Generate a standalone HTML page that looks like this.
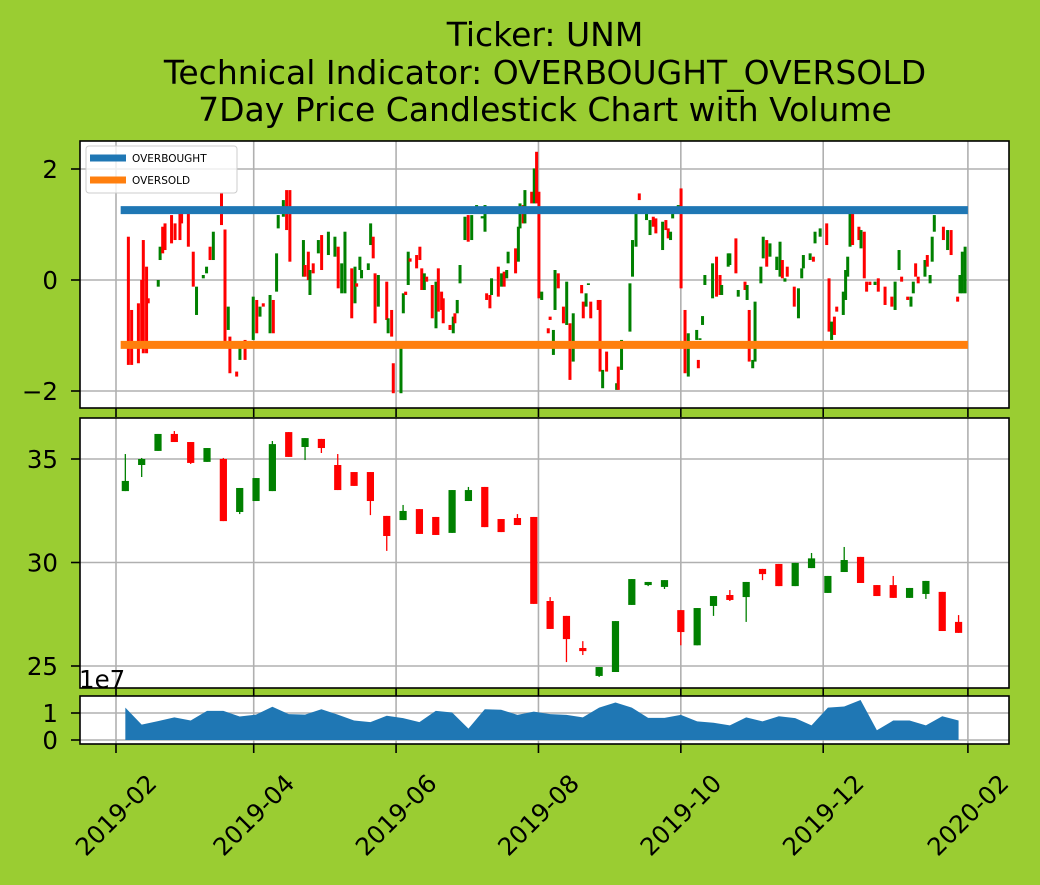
<!DOCTYPE html>
<html><head><meta charset="utf-8">
<style>
html,body{margin:0;padding:0;background:#9acd32;}
svg{display:block;font-family:"DejaVu Sans","Liberation Sans",sans-serif;}
</style></head>
<body>
<svg id="chart" width="1040" height="885" viewBox="0 0 1040 885" xmlns="http://www.w3.org/2000/svg">
<rect width="1040" height="885" fill="#9acd32"/>
<text x="545" y="46" font-size="33" text-anchor="middle">Ticker: UNM</text>
<text x="545" y="84" font-size="33" text-anchor="middle">Technical Indicator: OVERBOUGHT_OVERSOLD</text>
<text x="545" y="121" font-size="33" text-anchor="middle">7Day Price Candlestick Chart with Volume</text>
<g id="g1"></g>
<g id="g2"></g>
<g id="g3"></g>
<g id="gx"></g>
</svg>
<script>
// ---- indicator panel data (z-score), days since 2019-02-01 ----
const indDays=[5.3,6.7,9.6,11.0,11.7,13.1,13.8,18.1,18.9,20.0,21.0,23.8,25.3,27.4,28.1,31.0,33.1,34.5,37.4,38.8,40.3,41.7,45.2,46.7,48.1,48.8,51.7,53.1,55.3,58.8,60.3,61.7,63.1,66.0,67.4,68.8,69.5,71.7,73.1,74.5,80.3,81.0,82.4,83.1,84.5,86.7,88.1,91.0,93.8,95.2,96.7,98.1,101.0,102.4,103.1,104.5,105.2,108.1,109.1,110.2,111.0,112.4,116.0,116.6,118.1,118.8,122.1,123.1,124.1,125.2,126.0,128.8,130.2,131.0,132.1,133.1,135.5,137.1,138.1,139.5,140.2,143.1,144.5,145.2,146.2,147.4,149.5,150.9,152.4,154.5,156.9,158.1,158.8,160.2,160.9,163.8,165.2,166.3,167.4,168.0,171.2,172.4,173.1,174.5,175.2,178.1,179.2,180.2,181.2,182.4,185.2,186.0,187.4,188.1,189.5,191.7,193.1,194.5,195.9,199.5,200.2,201.4,202.4,203.4,206.6,207.4,208.5,210.2,214.5,215.2,216.6,220.2,221.3,222.8,224.2,227.3,228.8,230.2,231.3,234.2,235.6,236.6,237.6,238.5,240.9,242.1,243.8,245.2,248.8,249.5,250.2,251.3,252.3,255.6,257.3,258.8,259.5,262.3,263.0,265.6,266.6,269.5,270.4,271.3,272.8,273.8,276.3,277.3,278.8,280.2,283.1,284.5,285.5,286.6,287.6,290.6,292.4,293.8,294.5,297.4,298.8,299.5,301.7,304.5,305.5,306.6,307.8,308.8,311.6,312.6,313.5,314.5,315.6,318.3,319.2,320.6,321.6,323.0,325.2,326.6,329.5,332.4,333.8,335.5,336.6,339.2,340.6,341.6,342.6,343.7,346.6,347.6,348.8,349.7,350.6,354.5,356.3,357.8,360.6,361.6,362.6,363.8];
const indOpen=[.78,-.54,-.42,0,.72,.24,-.33,-.12,.36,.96,1.02,1.17,1.02,1.2,1.2,1.2,.51,-.63,.03,.12,.6,.36,1.56,.91,-.9,-1.02,-1.65,-1.44,-1.08,-1.08,-.36,-.66,-.42,-.96,-.36,-.21,.93,1.14,1.62,1.62,.06,.27,.51,-.27,.3,.48,.81,.45,.42,.6,-.24,-.24,.21,-.42,-.06,.18,.03,.18,.63,.78,.12,-.48,-.03,-.96,-.54,-1.5,-2.04,-.6,-.21,-.09,.39,.45,.6,.21,-.18,.06,-.09,-.87,.21,-.21,-.33,-.81,-.96,-.6,-.6,-.06,.72,1.17,.72,1.29,1.11,.87,-.24,-.27,-.27,.24,-.12,.15,.03,.3,.57,.33,.93,1.35,1.02,1.59,1.38,2.31,1.59,-.36,-.87,-.66,-1.35,-.54,.12,-.48,-.81,-.78,-1.47,-.09,-.39,-.48,-.09,-.39,-.36,-.36,-1.95,-1.29,-1.98,-1.56,-1.62,-.93,.06,.6,1.56,1.08,.81,1.14,1.11,.54,1.08,.93,.72,1.11,1.26,1.65,-.54,-1.74,-1.08,-1.44,-1.08,-.81,-.09,-.33,.42,.09,-.27,.24,.27,.75,-.3,-.03,-.36,-.54,-1.59,-1.47,-.06,.39,.72,.42,.18,.06,.36,-.03,.24,-.12,-.69,.03,.21,.36,.42,.66,.78,1.02,.03,-1.08,-.66,-.48,-.63,-.36,.06,.6,1.2,.96,.57,.87,-.03,-.03,-.09,.03,-.12,-.3,-.54,.18,.06,-.3,-.48,-.24,.3,.06,.06,.45,-.06,.33,.87,.96,.54,.9,-.3,-.24,-.24,-.24];
const indClose=[-1.53,-1.53,-1.5,-1.14,-1.32,-1.32,-.42,0,.6,.48,.54,.66,.72,.72,1.02,.6,-.12,-.12,.09,.24,.36,.87,.99,-1.2,-.48,-1.68,-1.74,-1.2,-1.44,-.3,-.96,-.48,-.48,-.27,-.96,.48,1.17,1.44,.9,.33,.72,.06,0,.18,.12,.72,.18,.87,.78,-.15,.3,.87,-.69,.24,-.12,.42,.18,.3,1.02,.39,-.78,.09,-.72,-.69,-1.02,-2.04,-1.17,-.24,-.27,.51,.33,.21,.36,-.18,.12,-.03,-.69,-.03,-.57,-.54,-.78,-.9,-.66,-.78,-.36,.27,1.14,.69,1.17,1.35,1.15,1.35,-.36,-.51,.03,-.3,.12,-.12,.18,.51,.12,.96,1.38,1.02,1.62,1.38,2.01,1.38,-.33,-.21,-.96,-.72,-.9,.18,-.15,-.78,-.03,-1.8,-.6,-.24,-.69,-.24,-.06,-.69,-.54,-1.65,-1.62,-1.65,-1.86,-1.98,-1.08,-.06,.72,1.2,1.44,1.32,1.08,.96,.84,1.05,.9,.75,.87,1.23,1.35,-.15,-1.68,-.96,-.9,-1.59,-1.05,-.65,.09,.3,-.3,-.27,-.09,.48,.48,.12,-.18,-.18,-.09,-1.47,-1.44,-.39,.24,.78,.24,.66,.42,.69,.03,.03,.06,-.48,-.15,.21,.45,.48,.33,.87,.93,.63,-.93,-.75,-.99,-.57,-.21,.18,.42,1.2,.63,.72,.9,.03,-.21,-.09,-.03,-.21,-.45,-.48,-.03,.54,-.03,-.36,-.3,-.03,.06,-.06,.36,.24,.09,.78,1.17,.72,.9,.45,-.39,.09,.51,.6];
const levelNames=["OVERBOUGHT","OVERSOLD"];
const levelValues=[1.26,-1.17];
const indTicks=[2,0,-2];
// ---- weekly price data ----
const wkOpen=[33.45,34.71,35.39,36.21,35.82,34.86,35.0,32.44,32.97,33.45,36.3,35.58,35.97,34.71,34.37,34.37,32.25,32.05,32.58,32.2,31.43,32.97,33.65,32.1,32.15,32.2,28.14,27.42,25.87,24.52,24.71,27.95,28.91,28.82,27.7,26.0,27.9,28.43,28.33,29.69,29.93,28.86,29.73,28.53,29.54,30.27,28.91,28.91,28.29,28.48,28.58,27.13];
const wkClose=[33.94,35.0,36.21,35.82,34.81,35.53,32.0,33.6,34.08,35.72,35.1,36.01,35.53,33.5,33.7,32.97,31.28,32.49,31.38,31.33,33.5,33.5,31.71,31.47,31.81,28.0,26.79,26.3,25.72,24.95,27.17,29.2,29.06,29.15,26.64,27.8,28.38,28.19,29.06,29.44,28.86,29.98,30.2,29.35,30.12,29.01,28.38,28.29,28.77,29.11,26.69,26.6];
const wkHigh=[35.24,35.05,36.21,36.35,35.82,35.53,35.05,33.6,34.08,35.87,36.3,36.01,35.97,35.24,34.37,34.37,32.25,32.78,32.58,32.2,33.5,33.65,33.65,32.1,32.34,32.2,28.33,27.42,26.2,24.95,27.17,29.2,29.06,29.15,27.7,27.8,28.38,28.67,29.06,29.69,29.93,29.98,30.46,29.35,30.75,30.27,28.91,29.35,28.77,29.11,28.58,27.46];
const wkLow=[33.45,34.13,35.39,35.82,34.76,34.86,32.0,32.34,32.97,33.45,35.1,34.95,35.29,33.5,33.7,32.29,30.56,32.05,31.38,31.33,31.43,32.97,31.71,31.47,31.81,28.0,26.79,25.19,25.53,24.47,24.71,27.95,28.86,28.72,26.0,26.0,27.42,28.14,27.13,29.15,28.86,28.86,29.73,28.53,29.54,29.01,28.38,28.29,28.29,28.24,26.69,26.6];
const wkVolume=[1.2,.57,.7,.84,.72,1.08,1.08,.87,.94,1.23,.96,.94,1.14,.94,.72,.66,.9,.81,.66,1.08,1.02,.42,1.14,1.12,.93,1.05,.96,.93,.84,1.2,1.39,1.2,.82,.82,.93,.69,.64,.54,.84,.69,.88,.81,.54,1.2,1.24,1.48,.36,.72,.72,.54,.88,.72];
const priceTicks=[35,30,25];
const volTicks=[1,0];
const xTickLabels=["2019-02","2019-04","2019-06","2019-08","2019-10","2019-12","2020-02"];
const xTickDays=[0,59,120,181,242,303,365];

const NS="http://www.w3.org/2000/svg";
function mk(tag,attrs,parent){const e=document.createElementNS(NS,tag);for(const k in attrs)e.setAttribute(k,attrs[k]);parent.appendChild(e);return e;}
const X=d=>116+d*2.334;
const L=80,R=1009;
const P1={t:141,b:408}, P2={t:418,b:688}, P3={t:696,b:744};
const y1=v=>280-v*55.5;
const y2=v=>459+(35-v)*20.7;
const y3=v=>740-v*27;
const GRID="#b0b0b0";
const FS=24.5;

function panel(g,P,ticks,yf,tickName){
  const bg=mk('rect',{x:L,y:P.t,width:R-L,height:P.b-P.t,fill:'#fff'},g);
  
  
  xTickDays.forEach(d=>{const l=mk('line',{x1:X(d),x2:X(d),y1:P.t,y2:P.b,stroke:GRID,'stroke-width':1.6},g);
    
    
    mk('line',{x1:X(d),x2:X(d),y1:P.b,y2:P.b+9,stroke:'#000','stroke-width':1.6},g);});
  ticks.forEach(v=>{const y=yf(v);
    const l=mk('line',{x1:L,x2:R,y1:y,y2:y,stroke:GRID,'stroke-width':1.6},g);
    
    
    mk('line',{x1:L-9,x2:L,y1:y,y2:y,stroke:'#000','stroke-width':1.6},g);
    const t=mk('text',{x:58,y:y+9,'font-size':FS,'text-anchor':'end'},g);
    t.textContent=(v<0?'\u2212'+Math.abs(v):String(v));
    
    });
}
function frame(g,P){const f=mk('rect',{x:L,y:P.t,width:R-L,height:P.b-P.t,fill:'none',stroke:'#000','stroke-width':1.6},g);
  
  }

// Panel 1
const g1=document.getElementById('g1');
panel(g1,P1,indTicks,y1,'indicator-y-tick');
indDays.forEach((d,i)=>{const o=indOpen[i],c=indClose[i];const up=c>=o;
  const top=y1(Math.max(o,c)),bot=y1(Math.min(o,c));
  const r=mk('rect',{x:X(d)-1.5,y:top,width:3,height:Math.max(bot-top,1.5),fill:up?'#008000':'#ff0000'},g1);
  
  });
const lvlColors=['#1f77b4','#ff7f0e'];
levelValues.forEach((v,i)=>{const l=mk('line',{x1:X(2),x2:X(365),y1:y1(v),y2:y1(v),stroke:lvlColors[i],'stroke-width':8},g1);
  
  });
frame(g1,P1);
const lg=mk('g',{},g1);


mk('rect',{x:86,y:146,width:151,height:47,rx:3,fill:'#fff','fill-opacity':0.8,stroke:'#ccc'},lg);
levelNames.forEach((n,i)=>{const y=158+i*22;
  const e=mk('g',{},lg);
  
  
  mk('line',{x1:90,x2:126,y1:y,y2:y,stroke:lvlColors[i],'stroke-width':7},e);
  const t=mk('text',{x:132,y:y+4,'font-size':10.5},e);t.textContent=n;});

// Panel 2
const g2=document.getElementById('g2');
panel(g2,P2,priceTicks,y2,'price-y-tick');
wkOpen.forEach((o,i)=>{const c=wkClose[i];const up=c>=o;const col=up?'#008000':'#ff0000';const x=X(4+7*i);
  const w=mk('line',{x1:x,x2:x,y1:y2(wkHigh[i]),y2:y2(wkLow[i]),stroke:col,'stroke-width':1.3},g2);
  
  
  const top=y2(Math.max(o,c)),bot=y2(Math.min(o,c));
  const r=mk('rect',{x:x-3.6,y:top,width:7.2,height:Math.max(bot-top,1.5),fill:col},g2);
  
  });
frame(g2,P2);
const e7=mk('text',{x:79,y:688,'font-size':FS},g2);e7.textContent='1e7';



// Panel 3
const g3=document.getElementById('g3');
panel(g3,P3,volTicks,y3,'volume-y-tick');
let pts=[[X(4),y3(0)]];
wkVolume.forEach((v,i)=>pts.push([X(4+7*i),y3(v)]));
pts.push([X(4+7*(wkVolume.length-1)),y3(0)]);
const area=mk('polygon',{points:pts.map(p=>p.join(',')).join(' '),fill:'#1f77b4'},g3);


frame(g3,P3);

// X labels
const gx=document.getElementById('gx');
xTickLabels.forEach((s,i)=>{const x=X(xTickDays[i]);const y=815;
  const t=mk('text',{x:x,y:y,'font-size':FS,'text-anchor':'middle','dominant-baseline':'central',transform:`rotate(-45 ${x} ${y})`},gx);
  t.textContent=s;
  
  });
</script>
</body></html>
